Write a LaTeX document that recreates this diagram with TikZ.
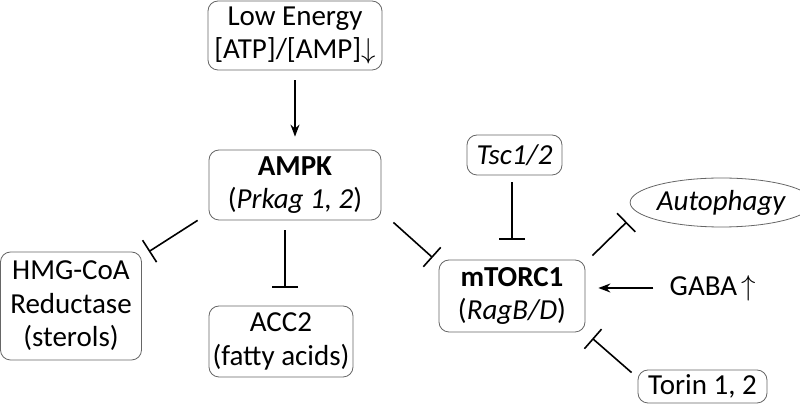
\documentclass[tikz,border=0pt]{standalone}
\usepackage{fontspec}
\setmainfont{Carlito}
\usetikzlibrary{arrows.meta,calc,shapes.geometric}

\tikzset{
  gene/.style={draw=gray!80!black, rounded corners=5pt, align=center, inner sep=0pt},
  act/.style={-{Stealth[length=6pt,width=4.5pt]}, line width=0.8pt},
  inh/.style={-{Bar[width=13pt,line width=0.8pt]}, line width=0.8pt},
}

\begin{document}
\begin{tikzpicture}[x=0.5pt,y=-0.5pt, font=\fontsize{14.5}{16.8}\selectfont]
  \useasboundingbox (0,0) rectangle (800,406);

	%boxes
    \foreach \x/\y/\w/\h/\name/\txt in {295/35.5/87/34.5/low/{Low Energy\\{}[ATP]/[AMP]$\downarrow$},
        295/185/86/35/ampk/{\textbf{AMPK}\\(\textit{Prkag 1, 2})},
        71/306/70.5/54/hmg/{HMG-CoA\\Reductase\\(sterols)},
        281/341.5/72/35.5/acc/{ACC2\\(fatty acids)},
        514.5/155/47.5/20/tsc/{\textit{Tsc1/2}},
        512/296/73/36/mtor/{\textbf{mTORC1}\\(\textit{RagB/D})},
        702.5/386.5/64.5/16.5/torin/{Torin 1, 2}}{
         \node[gene, minimum width=\w pt, minimum height=\h pt] (\name) at (\x,\y) {\txt};
    }

    \node[draw=gray!80!black, ellipse, inner sep=0pt, minimum width=78.5pt, minimum height=24.5pt] (auto) at (721.5,202.5) {\textit{Autophagy}};
    \node[inner sep=0pt] (gaba) at (713,288) {GABA\,$\uparrow$};

	%links
    \draw[act, shorten <=5pt, shorten >=6.5pt] (low) -- (ampk);
    \draw[inh] ($(ampk.south west)+(-11,0)$) -- ($(hmg.north east)+(7,0)$);
    \draw[inh] ($(ampk.south)+(-10,10)$) -- ($(acc.north)+(4,-18)$);
    \draw[inh] ($(ampk.south east)+(12,2)$) -- ($(mtor.north west)+(-6,-2)$);
    \draw[inh, shorten <=3.5pt, shorten >=10pt] (tsc.south -| mtor.north) -- (mtor.north);
    \draw[inh] ($(mtor.north east)+(7,-4)$) -- ($(auto.west)+(-3,19.5)$);
    \draw[act, shorten <=8pt, shorten >=6.5pt] (gaba.west) -- (gaba.west -| mtor.east);
    \draw[inh] ($(torin.north west)+(-6,3)$) -- ($(mtor.south east)+(7,6)$);

\end{tikzpicture}
\end{document}
